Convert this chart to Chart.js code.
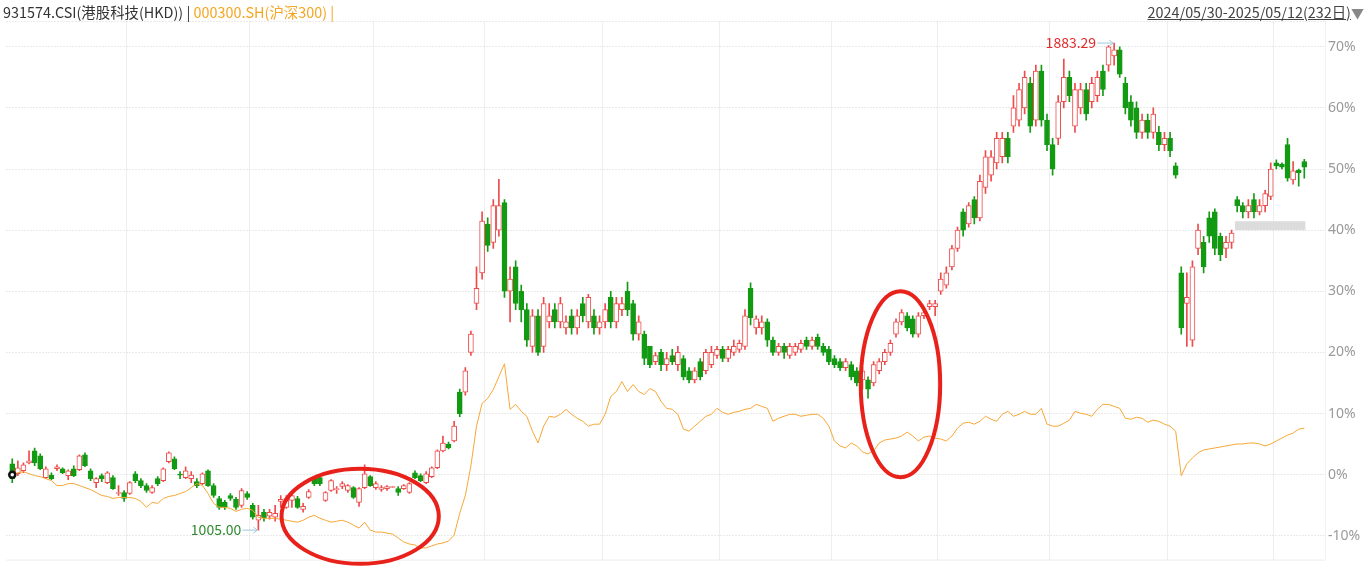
<!DOCTYPE html>
<html>
<head>
<meta charset="utf-8">
<script src="https://cdn.jsdelivr.net/npm/chart.js@4"></script>
<style>
body { margin: 0; background: #fff; font-family: "Noto Sans CJK SC", "Noto Sans", sans-serif; }
#wrap { position: relative; width: 1372px; height: 571px; overflow: hidden; }
#chart { position: absolute; left: 0; top: 0; }
#head { position: absolute; left: 3px; top: 1px; font-size: 14.4px; color: #333; white-space: nowrap; }
#head .hs { color: #f5a623; }
#range { position: absolute; right: 8px; top: 1px; font-size: 14.4px; color: #444; white-space: nowrap; }
#range u { text-decoration: underline; }
#range .tri { color: #888; font-size: 13px; }
</style>
</head>
<body>
<div id="wrap">
  <canvas id="chart" width="1372" height="571"></canvas>
  <div id="head">931574.CSI(港股科技(HKD)) | <span class="hs">000300.SH(沪深300) |</span></div>
  <div id="range"><u>2024/05/30-2025/05/12(232日)</u><span class="tri">▼</span></div>
</div>
<script>
// 931574.CSI candles, % change vs first day
const opens = [
  1.78,0.16,0.65,1.94,3.89,3.08,-0.49,0,0.97,0.97,
  -0.16,0.97,0.81,3.24,0.65,-1.30,-0.16,-1.30,-0.49,-3.08,
  -2.91,-3.08,0.16,-0.97,-1.78,-2.91,-0.65,-0.97,2.11,2.59,
  0,-0.49,-0.65,-1.13,-1.46,0.65,-1.78,-3.89,-4.53,-3.40,
  -4.05,-5.02,-3.08,-5.02,-7.45,-6.15,-6.80,-6.96,-4.37,-5.34,
  -4.21,-3.89,-5.67,-3.72,-0.49,-0.49,-4.21,-2.59,-2.43,-1.94,
  -2.59,-2.11,-4.53,-2.11,-0.32,-2.11,-2.43,-2.27,-1.94,-2.27,
  -2.27,-2.91,0.32,-0.16,-1.30,-0.32,1.13,3.89,5.02,5.51,
  13.5,13.5,20,28,33,41,38,40,44.5,30,
  34,30,27,21,26,21,25,27,25,24,
  26,24,28,25,26,24,25,29,25,27,
  30,28,23,23,21,18.5,20,18,19.5,18,
  19,17,15.5,18.5,17,18,19.5,20.5,19,20,
  20.5,21,30.5,24,24,25,22,20,21,19.5,
  20,20.5,22,21,22.5,21,20.5,19,18.5,17.5,
  18,17,15.5,15.5,15,17,18.5,20,23,25,
  26,25.5,23,26,27.5,27.5,30,31,34,37,
  43,41,45,42,47,49,51,52,55,57,
  58,60,64,58,66,58,54,55,61,65,
  57,60,63,61,62,66,67,68.5,69.5,64,
  61,60,56,58,56,56,54,55,50.5,33,
  28,22,37,38,42,43,39,37,38,45,
  44,43,45,43,44,45.5,51,50.8,54,48.2,
  49.8,51.2
];
const highs = [
  2.59,2.27,1.94,3.89,4.37,3.40,1.30,0.32,1.62,1.13,
  0.81,1.46,3.24,3.56,0.97,-0.49,0.16,0.49,-0.16,-1.78,
  -2.59,-1.13,0.49,-0.65,-1.46,-1.78,-0.32,1.13,3.72,2.91,
  0.49,1.30,0.49,-0.65,0.32,0.81,-1.46,-3.56,-4.21,-3.08,
  -3.72,-2.27,-2.75,-4.70,-5.02,-5.67,-5.67,-5.02,-3.40,-3.40,
  -2.91,-3.56,-4.70,-2.43,-0.32,-0.16,-2.75,-0.81,-1.94,-1.13,
  -1.62,-1.94,-2.11,1.62,-0.16,-1.13,-1.78,-1.78,-1.94,-1.94,
  -1.62,-1.30,0.65,0.16,0.49,1.30,4.05,6.32,5.34,8.74,
  14,17.5,23.5,34,43,42,45,48.3,45,34,
  35,31,28,27,27,29,28,28,29,26,
  27,27,29,29.5,27,26,28,30,29,29,
  31.5,28.5,26,23.5,21,20,20.5,20,20.5,21,
  19.5,17.5,17.5,19,20.5,21,21,21,21,22,
  22,27,31.4,26,26,25.5,22.5,21.5,21.5,21.5,
  21.5,22,22.5,22.5,23,21.5,21,19.5,19,19,
  18.5,17.5,17.5,16,18.5,19,20.5,22,25.5,27,
  26.5,26,26.5,27,28.5,28.5,33,34,37.5,40.5,
  43.5,44.5,45.5,49,53,53,56,56,56,62,
  64,66,65,67,67,59,55,62,68,66,
  64,64,64,65,66,67,70.2,70.6,70,65,
  62,61,59,59,60,57,56,56,51,34,
  33,35,41,39,43,43.5,39.5,39,40,45.5,
  44.5,45,46,45,46.5,51,51.5,51,55,51.2,
  50,51.6
];
const lows = [
  -1.30,-0.16,0.32,1.78,1.46,0.81,-0.65,-0.81,0.65,0.16,
  -0.81,-0.32,0.65,1.30,-0.97,-2.11,-1.13,-1.46,-2.43,-3.40,
  -4.37,-3.24,-1.30,-2.11,-2.91,-3.08,-1.78,-1.13,1.94,0.81,
  -0.65,-0.65,-1.30,-2.11,-1.62,-1.94,-3.72,-5.67,-5.67,-4.21,
  -5.67,-5.34,-4.05,-7.29,-9.07,-7.61,-7.29,-7.61,-5.34,-5.51,
  -5.34,-5.51,-6.15,-3.89,-1.78,-1.78,-4.37,-2.75,-3.08,-2.27,
  -2.91,-3.89,-5.18,-2.27,-1.94,-2.43,-2.75,-2.59,-1.94,-3.40,
  -2.43,-3.08,-0.65,-1.13,-1.46,-0.49,0.97,3.72,4.21,5.34,
  9.5,13,19.5,27,32,36.5,37,39,29,25,
  27,25,21,20,19.5,20,24,24,24,23,
  23,23,25,24,23,23,24,24,24,26,
  26,22,22,18,17.5,18,17,17,18,17,
  15.5,15,15,15.5,16.5,17.5,19,18.5,18.5,19.5,
  20,20.5,24.5,23,23,21,19.5,19.5,19,19,
  19.5,20,20.5,20.5,20.5,19.5,18,17.5,17,17,
  15.5,14.5,14,12.5,14.5,16.5,18,19.5,22.5,24.5,
  23.5,22.5,22.5,25.5,27,26,29.5,30.5,33.5,36.5,
  39,40.5,41,41.5,46,48,50,51,51,56,
  57,59,56,57,57,53,49,54,60,61,
  56,59,58,60,61,62,66,67,65,59,
  57,55,55,55,55,53,53,52,48.5,23,
  21,21,36,33,38,36,35,35.5,37,43,
  42,42,42,42.5,43,45,50,50,48,47.5,
  47.2,48.5
];
const closes = [
  -0.65,1.13,1.62,2.27,1.94,0.97,0.97,-0.65,1.30,0.32,
  0.65,-0.16,3.08,1.46,-0.65,-0.65,-0.65,0.32,-2.27,-2.91,
  -3.89,-1.30,-0.97,-1.78,-2.59,-2.11,-1.46,0.97,3.56,0.97,
  -0.16,0.65,0,-1.78,0.16,-1.78,-3.40,-5.34,-5.34,-3.89,
  -5.34,-2.59,-3.72,-6.96,-6.64,-7.13,-6.15,-6.32,-4.05,-3.89,
  -3.40,-5.34,-5.18,-2.75,-1.46,-1.46,-2.91,-0.97,-2.27,-1.46,
  -1.78,-3.72,-2.27,0.16,-1.78,-1.46,-2.11,-1.94,-1.94,-2.91,
  -1.78,-1.46,-0.49,-0.97,0.16,1.13,3.89,5.18,4.37,7.94,
  10,17,23,30.5,41.5,37.5,44,44,30,32,
  28,27,22,26,20,28,26,25,28,25,
  24,26,26,29,24,25,27,25,28,28,
  27,23,25,19,18,19.5,18,19,18.5,20,
  16,15.5,17,16,20,20,20.5,19,20.5,21,
  21.5,26,25.7,25.5,25,22,20,21,20,21,
  21,21.5,21,22,21,20,18.5,18,17.5,18.5,
  16,15,17,14,18,18.5,20,21.5,25,26.5,
  24,23,26,26.5,28,28,32,33,37,40,
  40,44,42,48,52,52,55,55,52,60,
  63,65,57,66,58,54,50,61,65,62,
  63,63,59,64,65,63,70,69.5,65.5,60,
  58,56,58,56,59,54,55,53,49,24,
  29,34,40,34,39,37,36,38,39.5,44,
  43,44,43,44,46,50,50.5,50.3,48.5,49.7,
  49.4,50.3
];
// 000300.SH, % change vs first day
const hs300 = [
  0,0.32,0.49,0.16,-0.16,-0.32,-0.65,-0.97,-1.78,-1.78,
  -1.46,-1.46,-1.78,-2.11,-2.43,-2.91,-3.40,-3.56,-3.89,-3.72,
  -3.72,-3.72,-3.89,-4.37,-5.34,-4.53,-4.70,-3.89,-3.56,-3.40,
  -3.08,-2.75,-2.11,-1.46,-1.78,-3.08,-4.70,-5.34,-5.34,-5.51,
  -6.00,-5.67,-5.51,-5.83,-6.96,-7.13,-7.13,-7.13,-7.29,-7.45,
  -7.61,-7.77,-7.45,-6.96,-6.64,-7.13,-7.45,-7.77,-7.61,-7.45,
  -7.77,-8.26,-8.74,-7.77,-9.07,-9.39,-9.39,-9.55,-9.72,-10.36,
  -11.01,-11.34,-11.50,-11.98,-11.98,-11.66,-11.34,-11.17,-10.85,-9.88,
  -6.32,-3.40,1.46,7.94,11.66,12.47,13.93,16.03,18.14,10.69,
  11.50,10.36,9.55,7.13,5.18,7.94,9.55,9.39,9.88,10.69,
  9.88,9.23,8.74,7.94,8.26,8.26,9.88,12.79,13.60,15.22,
  13.60,14.74,13.60,13.12,14.09,13.60,11.98,10.85,10.69,9.88,
  7.45,7.13,7.94,8.74,9.55,9.88,10.85,10.20,9.88,10.20,
  10.36,10.69,10.85,11.50,11.17,10.85,8.74,9.23,9.55,9.88,
  9.88,9.55,9.72,9.88,9.88,9.23,7.94,5.51,4.70,4.37,
  5.18,4.70,3.72,3.40,3.89,5.18,5.67,5.83,5.99,6.32,
  6.96,6.32,5.51,6.15,6.32,5.99,5.83,5.51,6.32,7.61,
  8.42,8.58,8.26,8.74,9.55,9.07,8.74,9.88,10.36,9.55,
  9.88,10.36,9.88,9.88,10.85,8.26,7.94,7.94,8.42,8.91,
  10.36,10.04,9.88,9.55,10.69,11.50,11.50,11.17,10.85,9.23,
  9.07,9.39,9.23,8.58,8.91,8.74,8.26,7.94,7.13,-0.16,
  1.78,2.75,3.56,4.05,4.21,4.37,4.53,4.70,4.86,5.02,
  5.02,5.18,5.18,5.02,4.70,5.02,5.51,5.99,6.48,6.80,
  7.45,7.6
];
// first trading day of each month (index)
const monthStarts = [21, 43, 65, 85, 106, 127, 147, 166, 186, 207, 226];
const lowLabel = "1005.00";
const highLabel = "1883.29";
// hand-drawn marks, in data units
const ellipses = [
  { ci: 62.2, cv: -6.8, ri: 14.06, rv: 7.77 },
  { ci: 158.8, cv: 14.8, ri: 7.1, rv: 15.2 }
];
const grayBand = { from: 218.6, to: 231.2, lo: 40.0, hi: 41.46 };

const UP = "#ee4b4b", DOWN = "#139a13", LINE = "#f7a735";
const idx = closes.map((_, i) => i);
const isUp = i => closes[i] >= opens[i];

function arrow(ctx, x1, x2, yy) {
  ctx.strokeStyle = "#9fcbe0";
  ctx.lineWidth = 1;
  ctx.beginPath();
  ctx.moveTo(x1, yy); ctx.lineTo(x2, yy);
  ctx.moveTo(x2 - 4, yy - 3); ctx.lineTo(x2, yy); ctx.lineTo(x2 - 4, yy + 3);
  ctx.stroke();
}

const overlay = {
  id: "overlay",
  beforeDatasetsDraw(chart) {
    const { ctx, chartArea: a } = chart;
    ctx.save();
    ctx.strokeStyle = "#d6d6d6";
    ctx.setLineDash([1, 2]);
    ctx.beginPath(); ctx.moveTo(a.left, a.top + 0.5); ctx.lineTo(a.right, a.top + 0.5); ctx.stroke();
    ctx.setLineDash([]);
    ctx.strokeStyle = "#ececec";
    ctx.beginPath(); ctx.moveTo(a.left, a.bottom + 0.5); ctx.lineTo(a.right, a.bottom + 0.5); ctx.stroke();
    ctx.strokeStyle = "#f3f3f3";
    ctx.beginPath(); ctx.moveTo(a.right + 0.5, a.top); ctx.lineTo(a.right + 0.5, a.bottom); ctx.stroke();
    ctx.restore();
  },
  afterDatasetsDraw(chart) {
    const { ctx, scales: { x, y } } = chart;
    ctx.save();
    // grey band
    ctx.fillStyle = "#dcdcdc";
    const bx = x.getPixelForValue(grayBand.from), by = y.getPixelForValue(grayBand.hi);
    ctx.fillRect(bx, by, x.getPixelForValue(grayBand.to) - bx, y.getPixelForValue(grayBand.lo) - by);
    // min / max labels
    ctx.font = "14px 'Noto Sans CJK SC', 'Noto Sans', sans-serif";
    ctx.textBaseline = "middle";
    ctx.textAlign = "right";
    let iMin = 0, iMax = 0;
    lows.forEach((v, i) => { if (v < lows[iMin]) iMin = i; });
    highs.forEach((v, i) => { if (v > highs[iMax]) iMax = i; });
    let px = x.getPixelForValue(iMin), py = y.getPixelForValue(lows[iMin]);
    arrow(ctx, px - 16, px - 1, py);
    ctx.fillStyle = "#2f8a2f";
    ctx.fillText(lowLabel, px - 17, py);
    px = x.getPixelForValue(iMax); py = y.getPixelForValue(highs[iMax]);
    arrow(ctx, px - 17, px - 1, py);
    ctx.fillStyle = "#e02a2a";
    ctx.fillText(highLabel, px - 18, py);
    // red ellipses
    ctx.strokeStyle = "#e8211b";
    ctx.lineWidth = 4;
    ellipses.forEach(e => {
      const cx = x.getPixelForValue(e.ci), cy = y.getPixelForValue(e.cv);
      const rx = Math.abs(x.getPixelForValue(e.ci + e.ri) - cx);
      const ry = Math.abs(y.getPixelForValue(e.cv + e.rv) - cy);
      ctx.beginPath();
      ctx.ellipse(cx, cy, rx, ry, 0, 0, Math.PI * 2);
      ctx.stroke();
    });
    ctx.restore();
  }
};

new Chart(document.getElementById("chart"), {
  type: "bar",
  data: {
    datasets: [
      {
        type: "line",
        data: idx.map(i => ({ x: i, y: hs300[i] })),
        borderColor: LINE,
        borderWidth: 1,
        pointRadius: c => (c.dataIndex === 0 ? 3 : 0),
        pointBorderColor: "#111",
        pointBorderWidth: 2.5,
        pointBackgroundColor: "#fff",
        tension: 0,
        order: 1
      },
      {
        data: idx.map(i => ({ x: i, y: [lows[i], highs[i]] })),
        backgroundColor: idx.map(i => (isUp(i) ? UP : DOWN)),
        barThickness: 1,
        grouped: false,
        minBarLength: 1,
        order: 3
      },
      {
        data: idx.map(i => ({ x: i, y: [Math.min(opens[i], closes[i]), Math.max(opens[i], closes[i])] })),
        backgroundColor: idx.map(i => (isUp(i) ? "#fff" : DOWN)),
        borderColor: idx.map(i => (isUp(i) ? UP : DOWN)),
        borderWidth: 1,
        borderSkipped: false,
        barThickness: 5,
        grouped: false,
        minBarLength: 1,
        order: 2
      }
    ]
  },
  options: {
    responsive: false,
    animation: false,
    events: [],
    layout: { padding: { top: 21, left: 0, right: 0, bottom: 0 } },
    plugins: { legend: { display: false }, tooltip: { enabled: false } },
    scales: {
      x: {
        type: "linear",
        offset: false,
        min: -1.03,
        max: 234.7,
        afterBuildTicks: s => { s.ticks = monthStarts.map(v => ({ value: v - 0.5 })); },
        afterFit: s => { s.height = 6; },
        ticks: { display: false },
        grid: { color: "#eeeeee", drawTicks: false, offset: false },
        border: { display: false }
      },
      y: {
        position: "right",
        min: -13.89,
        max: 74.21,
        afterFit: s => { s.width = 47; },
        ticks: {
          stepSize: 10,
          includeBounds: false,
          padding: 3,
          color: "#9a9a9a",
          font: { size: 14, family: "'Noto Sans', sans-serif" },
          callback: v => v + "%"
        },
        grid: { color: "#d4d4d4", drawTicks: false },
        border: { display: false, dash: [1, 2] }
      }
    }
  },
  plugins: [overlay]
});
</script>
</body>
</html>
